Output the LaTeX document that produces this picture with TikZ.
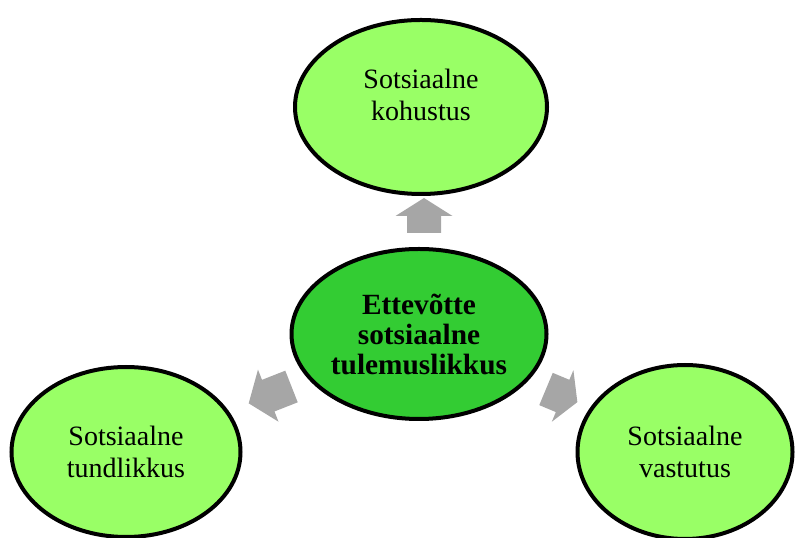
\documentclass[tikz,border=0pt]{standalone}
\usepackage{fontspec}
\setmainfont{Liberation Serif}
\usetikzlibrary{shapes.geometric}
\definecolor{lightgreen}{HTML}{99FF66}
\definecolor{midgreen}{HTML}{33CC33}
\definecolor{arrowgray}{HTML}{A6A6A6}
\newcommand\blockarr[7]{%
  \fill[arrowgray, shift={(#1,#2)}, rotate=#3]
    (0,-#6/2) -- (#4-#5,-#6/2) -- (#4-#5,-#7/2) -- (#4,0) --
    (#4-#5,#7/2) -- (#4-#5,#6/2) -- (0,#6/2) -- cycle;}
\begin{document}
\begin{tikzpicture}[x=0.75pt,y=0.75pt,
  bubble/.style={ellipse, draw=black, line width=3pt, fill=lightgreen,
    inner sep=0pt, align=center, font=\fontsize{21}{24}\selectfont},
  hub/.style={bubble, fill=midgreen, font=\fontsize{22}{22.5}\selectfont\bfseries},
  caption/.style={align=center, inner sep=0pt, font=\fontsize{21}{24}\selectfont}]
\useasboundingbox (0,0) rectangle (795,538);
% block arrows
\blockarr{424}{305}{90}{35}{18}{34}{57}
\blockarr{291.5}{151.5}{201.5}{46}{21}{34}{56}
\blockarr{546}{149}{-22.7}{34}{16}{35}{56}
% ellipses
\node[hub, minimum width=255*0.75pt, minimum height=170*0.75pt] (center) at (419,204)
  {Ettevõtte\\sotsiaalne\\tulemuslikkus};
\node[bubble, minimum width=252*0.75pt, minimum height=174*0.75pt] (top) at (421,431) {};
\node[caption] (toptext) at (421,443) {Sotsiaalne\\kohustus};
\node[bubble, minimum width=229*0.75pt, minimum height=170*0.75pt] (left) at (126,86)
  {Sotsiaalne\\tundlikkus};
\node[bubble, minimum width=215*0.75pt, minimum height=174*0.75pt] (right) at (685,86)
  {Sotsiaalne\\vastutus};
\end{tikzpicture}
\end{document}
